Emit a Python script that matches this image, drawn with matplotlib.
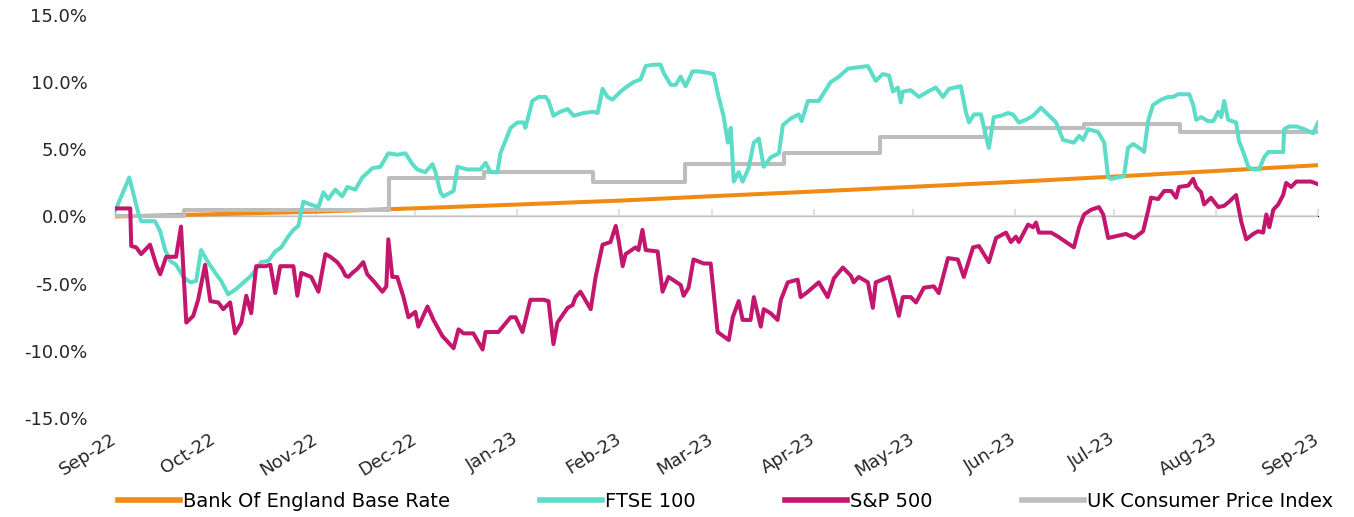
import matplotlib
matplotlib.use("Agg")
import matplotlib.pyplot as plt
import matplotlib.dates as mdates
import pandas as pd
from matplotlib.lines import Line2D

start = pd.Timestamp("2022-09-01")

# cumulative return (%) - days counted from 1 Sep 2022
ftse_days = [0, 4.3, 7.0, 7.9, 12.1, 13.7, 15.2, 16.7, 18.5, 20.7, 22.8, 24.6, 26.1, 28.2,
             30.4, 32.2, 34.3, 36.7, 39.5, 41.3, 44.3, 46.5, 48.6, 50.4, 52.5, 54.1, 55.6,
             57.1, 59.2, 61.7, 63.2, 64.7, 66.8, 68.9, 70.5, 72.9, 75.0, 78.1, 80.5, 82.9,
             85.6, 88.1, 90.2, 91.7, 94.1, 96.3, 97.2, 98.7, 99.6, 102.7, 103.9, 106.9,
             110.9, 112.4, 113.9, 116.0, 116.9, 120.0, 122.1, 123.9, 124.5, 126.6, 128.5,
             130.6, 131.5, 133.0, 135.1, 137.3, 139.1, 142.1, 145.2, 146.4, 147.9, 149.4,
             150.9, 153.4, 154.9, 157.3, 159.4, 161.0, 163.4, 165.5, 166.4, 168.6, 170.1,
             171.6, 173.1, 175.2, 177.1, 179.8, 181.6, 183.1, 184.6, 185.9, 186.8, 187.7,
             189.2, 190.4, 192.2, 193.8, 195.3, 196.8, 198.9, 201.4, 202.6, 205.0, 207.4,
             208.3, 210.2, 213.5, 217.1, 219.6, 222.3, 225.3, 228.4, 230.8, 232.9, 234.8,
             236.0, 237.5, 238.4, 239.0, 241.4, 243.9, 246.6, 249.0, 251.2, 253.0, 256.6,
             258.1, 259.1, 260.6, 262.7, 264.2, 265.1, 266.6, 268.8, 270.9, 272.4, 274.2,
             276.4, 278.5, 280.9, 283.0, 285.5, 287.6, 290.9, 292.5, 293.7, 295.2, 298.2,
             300.1, 301.3, 302.2, 306.1, 307.3, 308.9, 311.3, 312.2, 313.4, 314.9, 317.4,
             319.5, 321.0, 322.5, 325.9, 327.1, 328.0, 329.5, 331.6, 333.2, 334.7, 335.6,
             336.5, 337.7, 340.1, 341.0, 342.3, 343.8, 345.3, 347.1, 348.6, 349.9, 352.9,
             354.4, 354.7, 356.2, 358.4, 360.8, 363.5, 365]
ftse_vals = [0.4, 2.9, 0.3, -0.35, -0.35, -1.1, -2.5, -3.3, -3.6, -4.5, -4.9, -4.8, -2.5, -3.4,
             -4.2, -4.8, -5.8, -5.4, -4.8, -4.4, -3.4, -3.3, -2.6, -2.3, -1.5, -1.0, -0.7,
             1.1, 0.9, 0.7, 1.8, 1.3, 2.0, 1.5, 2.2, 2.0, 2.9, 3.6, 3.7, 4.7,
             4.6, 4.7, 3.9, 3.5, 3.3, 3.9, 3.3, 1.8, 1.5, 1.9, 3.7, 3.5,
             3.5, 4.0, 3.3, 3.3, 4.7, 6.6, 7.0, 7.0, 6.6, 8.6, 8.9,
             8.9, 8.6, 7.5, 7.8, 8.0, 7.5, 7.7, 7.8, 7.7, 9.5, 8.9,
             8.7, 9.3, 9.6, 10.0, 10.2, 11.2, 11.3, 11.3, 10.7, 9.8, 9.8,
             10.4, 9.7, 10.8, 10.8, 10.7, 10.6, 8.9, 7.5, 5.5, 6.6, 2.6,
             3.3, 2.6, 3.6, 5.5, 5.8, 3.7, 4.4, 4.7, 6.8, 7.3, 7.6,
             7.1, 8.6, 8.6, 10.0, 10.4, 11.0, 11.1, 11.2, 10.1, 10.6, 10.5,
             9.3, 9.6, 8.5, 9.3, 9.4, 8.9, 9.3, 9.6, 8.9, 9.5, 9.7,
             7.8, 7.0, 7.6, 7.6, 6.0, 5.1, 7.4, 7.5, 7.7, 7.6, 7.0,
             7.2, 7.5, 8.1, 7.6, 7.0, 5.7, 5.5, 6.0, 5.7, 6.5, 6.3,
             5.5, 2.9, 2.8, 3.0, 5.1, 5.4, 5.0, 4.8, 7.1, 8.3, 8.7,
             8.9, 8.9, 9.1, 9.1, 8.3, 7.2, 7.4, 7.1, 7.1, 7.8, 7.4,
             8.6, 7.2, 7.0, 5.6, 4.8, 3.7, 3.5, 3.5, 4.4, 4.8, 4.8,
             4.8, 6.5, 6.7, 6.7, 6.5, 6.2, 7.0]

sp_days = [0, 4.6, 4.9, 6.4, 7.9, 10.6, 12.5, 13.7, 15.5, 18.5, 20.0, 21.6, 23.7, 25.2,
           27.3, 28.9, 31.3, 32.8, 34.9, 36.4, 38.3, 39.8, 41.3, 42.8, 45.6, 47.1, 48.6,
           50.1, 54.1, 55.3, 56.5, 59.5, 61.7, 63.8, 65.3, 67.4, 68.9, 69.9, 70.8, 72.0,
           73.5, 75.3, 76.5, 78.4, 81.1, 82.3, 82.9, 84.1, 85.6, 87.5, 89.0, 91.1, 92.0,
           94.8, 96.6, 99.3, 102.7, 104.2, 105.7, 108.7, 111.5, 112.4, 116.3, 120.0,
           121.5, 123.6, 126.0, 130.0, 131.5, 133.0, 134.2, 137.3, 138.8, 139.7, 141.2,
           144.3, 145.8, 147.9, 150.3, 151.9, 152.8, 154.0, 154.9, 157.9, 158.8, 160.0,
           161.0, 164.6, 166.1, 167.9, 171.6, 172.5, 174.0, 175.5, 178.6, 180.7, 182.8,
           186.2, 187.4, 189.2, 190.4, 192.8, 193.8, 195.9, 196.8, 198.9, 201.0, 202.0,
           204.1, 207.1, 208.0, 210.2, 213.5, 216.2, 218.1, 220.8, 223.2, 224.1, 225.6,
           228.4, 229.9, 230.8, 234.8, 237.8, 239.0, 241.4, 243.0, 245.4, 248.4, 249.9,
           252.7, 255.7, 257.5, 260.3, 262.1, 265.1, 267.3, 270.3, 271.8, 273.3, 274.2,
           277.0, 278.5, 279.4, 280.3, 284.0, 286.1, 288.5, 290.9, 292.5, 294.0, 296.1,
           298.5, 299.8, 301.3, 303.1, 306.7, 309.2, 311.9, 313.4, 314.3, 316.5, 318.3,
           320.4, 321.9, 322.8, 325.6, 327.1, 328.0, 329.5, 330.4, 332.5, 334.7, 336.5,
           338.0, 340.1, 341.7, 343.2, 345.3, 346.8, 348.3, 349.3, 350.2, 351.4, 352.9,
           354.4, 355.3, 356.8, 358.4, 360.8, 362.9, 365]
sp_vals = [0.6, 0.6, -2.2, -2.3, -2.8, -2.1, -3.6, -4.3, -3.0, -3.0, -0.75, -7.9, -7.4, -6.2,
           -3.6, -6.3, -6.4, -6.9, -6.4, -8.7, -7.9, -5.9, -7.2, -3.7, -3.7, -3.6, -5.7,
           -3.7, -3.7, -5.9, -4.2, -4.5, -5.6, -2.8, -3.0, -3.4, -3.9, -4.4, -4.5, -4.2,
           -3.9, -3.4, -4.3, -4.8, -5.6, -5.2, -1.7, -4.5, -4.5, -6.0, -7.5, -7.1, -8.2,
           -6.7, -7.7, -8.9, -9.8, -8.4, -8.7, -8.7, -9.9, -8.6, -8.6, -7.5,
           -7.5, -8.6, -6.2, -6.2, -6.3, -9.5, -7.9, -6.8, -6.6, -6.0, -5.6,
           -6.9, -4.5, -2.1, -1.9, -0.7, -1.8, -3.7, -2.8, -2.3, -2.5, -1.0,
           -2.5, -2.6, -5.6, -4.5, -5.1, -5.9, -5.3, -3.2, -3.5, -3.5, -8.6,
           -9.2, -7.5, -6.3, -7.7, -7.7, -6.0, -8.2, -6.9, -7.2, -7.7, -6.2,
           -4.9, -4.7, -6.0, -5.6, -4.9, -6.0, -4.6, -3.8, -4.4, -4.9, -4.5,
           -4.9, -6.8, -4.9, -4.5, -7.4, -6.0, -6.0, -6.4, -5.3, -5.2, -5.7,
           -3.1, -3.2, -4.5, -2.3, -2.2, -3.4, -1.6, -1.2, -1.9, -1.5, -1.9,
           -0.6, -0.8, -0.45, -1.2, -1.2, -1.5, -1.9, -2.3, -0.8, 0.15, 0.5,
           0.7, 0.15, -1.6, -1.5, -1.3, -1.6, -1.1, 0.4, 1.4, 1.3, 1.9,
           1.9, 1.4, 2.2, 2.3, 2.8, 2.2, 1.8, 0.9, 1.4, 0.7, 0.8,
           1.1, 1.6, -0.4, -1.7, -1.3, -1.1, -1.2, 0.15, -0.8, 0.5, 0.9,
           1.6, 2.5, 2.2, 2.6, 2.6, 2.6, 2.4]

cpi_dates = ["2022-09-01", "2022-09-22", "2022-11-23", "2022-12-22", "2023-01-24",
             "2023-02-21", "2023-03-23", "2023-04-21", "2023-05-23", "2023-06-22",
             "2023-07-21", "2023-09-01"]
cpi_vals = [0.0, 0.5, 2.9, 3.3, 2.6, 3.9, 4.7, 5.9, 6.6, 6.85, 6.3, 6.3]

boe_dates = pd.date_range("2022-09-01", "2023-09-01", freq="MS")
boe_vals = [0.0, 0.17, 0.36, 0.61, 0.89, 1.18, 1.51, 1.86, 2.21, 2.58, 2.97, 3.39, 3.82]

labels = ["Bank Of England Base Rate", "FTSE 100", "S&P 500", "UK Consumer Price Index"]
colors = ["#F08A12", "#5DDCC7", "#C2176D", "#BDBDBD"]


def to_num(days):
    return mdates.date2num(start + pd.to_timedelta(days, unit="D"))


fig = plt.figure(figsize=(13.54, 5.17), dpi=100)
ax = fig.add_axes([0.085, 0.1915, 0.8885, 0.7795])

lw = 2.9
ax.plot(mdates.date2num(boe_dates), boe_vals, color=colors[0], lw=lw, zorder=3)
ax.plot(mdates.date2num(pd.to_datetime(cpi_dates)), cpi_vals, color=colors[3], lw=lw,
        drawstyle="steps-post", zorder=4)
ax.plot(to_num(ftse_days), ftse_vals, color=colors[1], lw=lw, zorder=5)
ax.plot(to_num(sp_days), sp_vals, color=colors[2], lw=lw, zorder=6)

tick_nums = mdates.date2num(boe_dates)
ax.set_xlim(tick_nums[0], tick_nums[-1])
ax.set_ylim(-15, 15)
ax.set_yticks([-15, -10, -5, 0, 5, 10, 15])
ax.set_yticklabels([f"{v:.1f}%" for v in [-15, -10, -5, 0, 5, 10, 15]])

ax.set_xticks(tick_nums)
ax.set_xticklabels([d.strftime("%b-%y") for d in boe_dates], rotation=32,
                   ha="right", va="center", rotation_mode="anchor")
ax.tick_params(axis="both", length=0, labelsize=13, colors="#262626")
ax.tick_params(axis="x", pad=14)
ax.tick_params(axis="y", pad=20)
for s in ax.spines.values():
    s.set_visible(False)

# zero line with small tick marks
ax.axhline(0, color="#D9D9D9", lw=1.3, zorder=1)
sec = ax.secondary_xaxis(0.5)
sec.set_xticks(tick_nums, labels=[""] * len(tick_nums))
sec.tick_params(axis="x", length=5, width=1.2, color="#D9D9D9",
                labelbottom=False, labeltop=False)
sec.spines["bottom"].set_visible(False)

handles = [Line2D([], [], color=c, lw=4) for c in colors]
fig.legend(handles, labels, loc="center", bbox_to_anchor=(0.536, 0.03), ncol=4,
           frameon=False, fontsize=14, handlelength=3.2, handletextpad=0.15,
           columnspacing=4.6)

fig.savefig("out.png", dpi=100)
